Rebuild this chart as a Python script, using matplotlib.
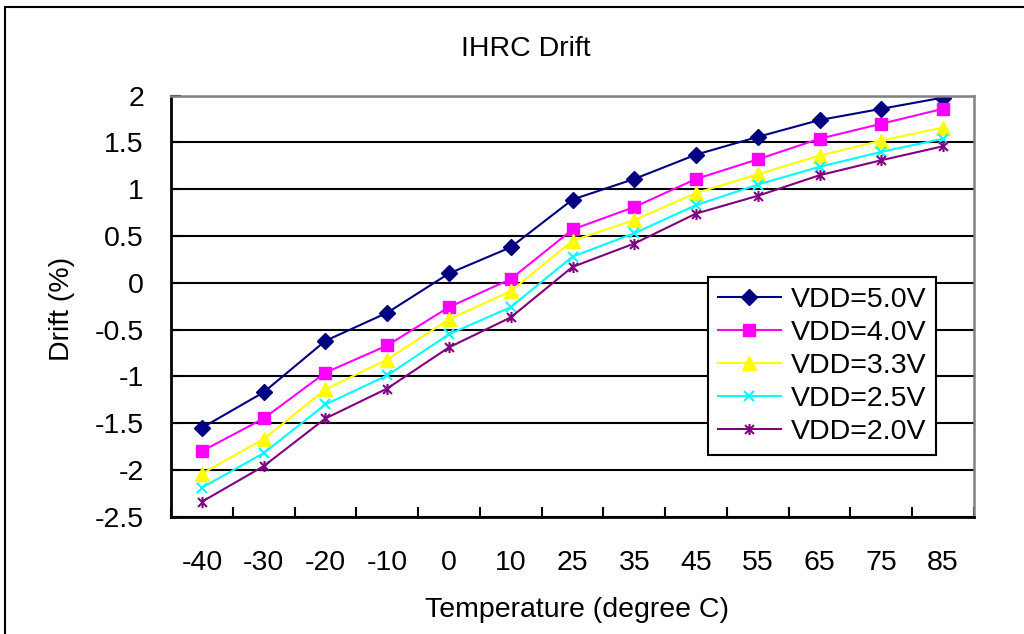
import matplotlib
matplotlib.use("Agg")
import matplotlib.pyplot as plt
from matplotlib.patches import Rectangle
from matplotlib.path import Path
import numpy as np

plt.rcParams['font.family'] = ['Liberation Sans', 'DejaVu Sans']

categories = ['-40', '-30', '-20', '-10', '0', '10', '25', '35', '45', '55', '65', '75', '85']
vdd_50 = [-1.55, -1.17, -0.62, -0.32, 0.10, 0.38, 0.89, 1.11, 1.37, 1.56, 1.74, 1.86, 1.98]
vdd_40 = [-1.80, -1.45, -0.96, -0.67, -0.26, 0.04, 0.57, 0.81, 1.11, 1.32, 1.54, 1.70, 1.86]
vdd_33 = [-2.04, -1.67, -1.14, -0.82, -0.39, -0.09, 0.45, 0.67, 0.96, 1.16, 1.36, 1.52, 1.66]
vdd_25 = [-2.19, -1.82, -1.30, -0.99, -0.55, -0.26, 0.28, 0.53, 0.83, 1.05, 1.24, 1.40, 1.54]
vdd_20 = [-2.34, -1.96, -1.45, -1.13, -0.69, -0.37, 0.17, 0.42, 0.74, 0.93, 1.15, 1.31, 1.46]
series_labels = ['VDD=5.0V', 'VDD=4.0V', 'VDD=3.3V', 'VDD=2.5V', 'VDD=2.0V']
y_ticks = [-2.5, -2, -1.5, -1, -0.5, 0, 0.5, 1, 1.5, 2]
y_tick_labels = ['-2.5', '-2', '-1.5', '-1', '-0.5', '0', '0.5', '1', '1.5', '2']

W, H = 1024, 634
fig = plt.figure(figsize=(W / 100, H / 100), dpi=100)
fig.patch.set_facecolor('white')

# outer border
fig.patches.append(Rectangle((5 / W, -0.1), 1.2, 1 - 7 / H + 0.1, transform=fig.transFigure,
                             fill=False, edgecolor='black', linewidth=1.5))

left, right, top, bottom = 171, 974, 95.7, 516.7
ax = fig.add_axes([left / W, 1 - bottom / H, (right - left) / W, (bottom - top) / H])
ax.set_axisbelow(True)

star = Path([(-1, -1), (1, 1), (-1, 1), (1, -1), (0, -1.25), (0, 1.25)],
            [Path.MOVETO, Path.LINETO, Path.MOVETO, Path.LINETO, Path.MOVETO, Path.LINETO])

x = np.arange(len(categories))
fs = 20.5
styles = [
    dict(color='#000080', marker='D', ms=8.5),
    dict(color='#FF00FF', marker='s', ms=8),
    dict(color='#FFFF00', marker='^', ms=10),
    dict(color='#00FFFF', marker='x', ms=7, mew=1.5),
    dict(color='#800080', marker=star, ms=8, mew=1.5),
]
for vals, lab, st in zip([vdd_50, vdd_40, vdd_33, vdd_25, vdd_20], series_labels, styles):
    ax.plot(x, vals, label=lab, lw=1.5, **st)

ax.set_xlim(-0.5, len(categories) - 0.5)
ax.set_ylim(-2.5, 2)
ax.set_yticks(y_ticks)
ax.set_yticklabels(y_tick_labels, fontsize=fs)
ax.yaxis.grid(True, color='black', linewidth=1.5)
ax.tick_params(axis='y', direction='in', length=7, width=1.5, pad=19.5)

ax.set_xticks(np.arange(len(categories) + 1) - 0.5)
ax.set_xticklabels([])
ax.tick_params(axis='x', which='major', direction='in', length=7, width=1.5)
ax.set_xticks(x, minor=True)
ax.set_xticklabels(categories, minor=True, fontsize=fs)
ax.tick_params(axis='x', which='minor', length=0, pad=24)

for s in ['left', 'bottom']:
    ax.spines[s].set_color('black')
    ax.spines[s].set_linewidth(2)
for s in ['top', 'right']:
    ax.spines[s].set_color('#808080')
    ax.spines[s].set_linewidth(1.8)

fig.text(526 / W, 1 - 56 / H, 'IHRC Drift', ha='center', va='baseline', fontsize=fs)
fig.text(576.7 / W, 1 - 617 / H, 'Temperature (degree C)', ha='center', va='baseline', fontsize=fs)
fig.text(69 / W, 1 - 309 / H, 'Drift (%)', ha='center', va='baseline', rotation=90,
         rotation_mode='anchor', fontsize=fs)

leg = ax.legend(loc='upper left', bbox_to_anchor=(708 / W, 1 - 277 / H), bbox_transform=fig.transFigure,
                borderaxespad=0, fontsize=fs, frameon=True, fancybox=False, handlelength=2.2,
                handletextpad=0.35, labelspacing=0.25, borderpad=0.35)
leg.get_frame().set_edgecolor('black')
leg.get_frame().set_linewidth(1.5)
leg.get_frame().set_facecolor('white')
leg.get_frame().set_alpha(1)

fig.savefig('out.png', dpi=100)
